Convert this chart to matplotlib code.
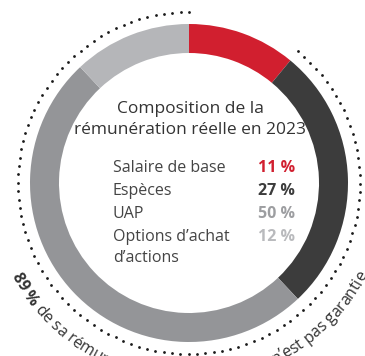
import numpy as np
import matplotlib
matplotlib.use("Agg")
import matplotlib.pyplot as plt
from matplotlib.font_manager import FontProperties

# pay mix, clockwise from 12 o'clock
categories = ["Salaire de base", "Espèces", "UAP", "Options d’achat\nd’actions"]
shares = [11, 27, 50, 12]
colors = ["#d11f2f", "#3c3c3c", "#949598", "#b5b6b9"]
pct_colors = ["#d11f2f", "#3c3c3c", "#9d9ea1", "#b9babd"]
title_lines = ["Composition de la", "rémunération réelle en 2023"]
not_guaranteed = 100 - shares[0]
arc_head = [(f"{not_guaranteed} %", "bold"), (" de sa rémunération", "normal")]
arc_tail = [("n’est pas garantie", "normal")]

W, H = 365, 356
FONT = "Open Sans"
fig = plt.figure(figsize=(W / 100, H / 100), dpi=100)
ax = fig.add_axes([0, 0, 1, 1])

cx, cy = 189, H - 183
R, ring_w = 159, 29

ax.pie(shares, colors=colors, startangle=90, counterclock=False,
       radius=R, center=(cx, cy),
       wedgeprops=dict(width=ring_w, edgecolor="none", linewidth=0))

# dotted arc over the part that is not guaranteed
r_dots = 171
a0 = 90 - shares[0] * 3.6
span = not_guaranteed * 3.6
n_dots = int(round(span / 2.8)) + 1
th = np.radians(np.linspace(a0, a0 - span, n_dots))
ax.plot(cx + r_dots * np.cos(th), cy + r_dots * np.sin(th), "o",
        color="#1a1a1a", markersize=2.0, markeredgewidth=0, linestyle="none")

# centre block
for i, line in enumerate(title_lines):
    ax.text(cx + 1, H - (113 + 20.5 * i), line, ha="center", va="baseline",
            fontsize=12.5, family=FONT, color="#333333")

row_y = [172, 195, 218, 241]
for lab, pct, col, y in zip(categories, shares, pct_colors, row_y):
    for j, part in enumerate(lab.split("\n")):
        ax.text(113, H - (y + 21.5 * j), part, ha="left", va="baseline",
                fontsize=11.5, family=FONT, color="#444444")
    ax.text(295, H - y, f"{pct} %", ha="right", va="baseline",
            fontsize=11.5, family=FONT, weight="bold", color=col)

# curved caption along the bottom
renderer = fig.canvas.get_renderer()
curve_size = 11.5


def text_w(s, weight):
    prop = FontProperties(family=FONT, size=curve_size, weight=weight)
    w_ref = renderer.get_text_width_height_descent("x", prop, ismath=False)[0]
    w = renderer.get_text_width_height_descent(s + "x", prop, ismath=False)[0]
    return w - w_ref


def layout(parts):
    items = []
    offset = 0.0
    for s, weight in parts:
        for i, ch in enumerate(s):
            left = text_w(s[:i], weight) if i else 0.0
            right = text_w(s[:i + 1], weight)
            items.append((ch, weight, offset + (left + right) / 2))
        offset += text_w(s, weight)
    return items, offset


def draw_arc_text(parts, r, start_deg=None, end_deg=None):
    items, total = layout(parts)
    if start_deg is None:
        start_deg = end_deg - np.degrees(total / r)
    for ch, weight, s in items:
        if ch == " ":
            continue
        a = np.radians(start_deg) + s / r
        ax.text(cx + r * np.cos(a), cy + r * np.sin(a), ch,
                rotation=np.degrees(a) + 90, rotation_mode="anchor",
                ha="center", va="baseline", fontsize=curve_size,
                family=FONT, weight=weight, color="#333333")


r_text = 200
draw_arc_text(arc_head, r_text, start_deg=207.6)
draw_arc_text(arc_tail, r_text, end_deg=332.8)

ax.set_xlim(0, W)
ax.set_ylim(0, H)
ax.set_aspect("equal")
ax.axis("off")
fig.savefig("out.png", dpi=100)
